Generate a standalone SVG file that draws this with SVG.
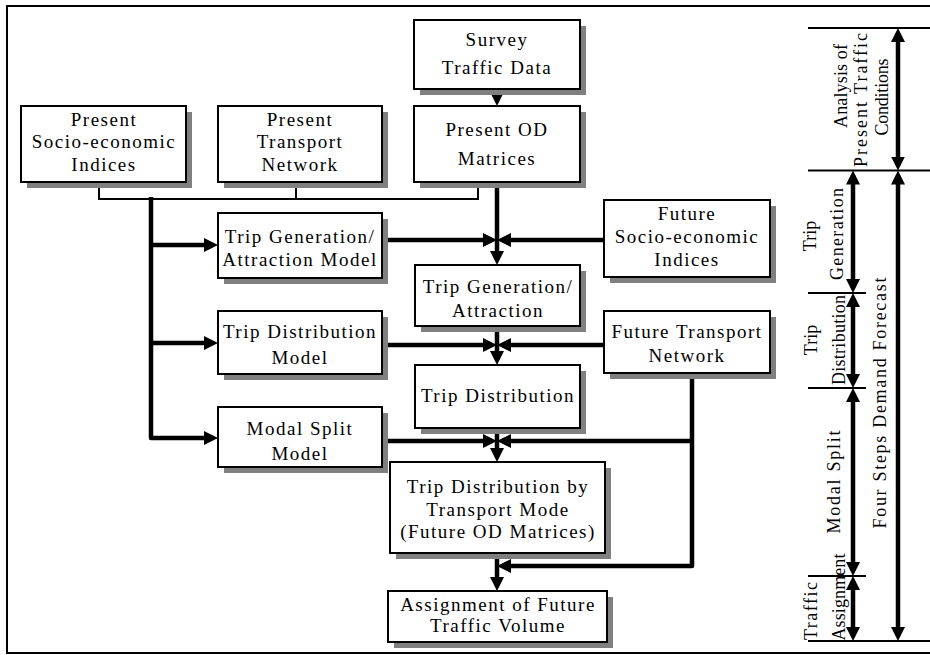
<svg xmlns="http://www.w3.org/2000/svg" width="930" height="655" viewBox="0 0 930 655">
  <defs>
    <!-- filled arrowhead; tip sits 5px beyond the path end so thick strokes stay hidden -->
    <marker id="ah" viewBox="0 0 14 14" refX="9" refY="7" markerWidth="14" markerHeight="14" markerUnits="userSpaceOnUse" orient="auto-start-reverse">
      <path d="M0,0 L14,7 L0,14 z" fill="#000"/>
    </marker>
  </defs>
  <style>
    .frame{fill:none;stroke:#000;stroke-width:2}
    .shadow{fill:#808080}
    .box{fill:#fff;stroke:#000;stroke-width:2}
    .lbl{font-family:"Liberation Serif","Times New Roman",serif;font-size:19px;letter-spacing:1.5px;text-anchor:middle;fill:#000}
    .side{font-family:"Liberation Serif","Times New Roman",serif;font-size:18px;text-anchor:middle;fill:#000}
    .thin{fill:none;stroke:#000;stroke-width:2}
    .thick{fill:none;stroke:#000;stroke-width:4.5;stroke-linejoin:round}
    .arr{marker-end:url(#ah)}
    .dbl{marker-start:url(#ah);marker-end:url(#ah)}
  </style>

  <rect class="frame" x="7" y="6" width="960" height="647"/>

  <!-- connectors -->
  <g id="connectors">
    <path class="thin" d="M99,182 V199 H478 V182"/>
    <path class="thin" d="M296,182 V199"/>
    <path class="thick" d="M151,197 V438 H213" style="marker-end:url(#ah)"/>
    <path class="thick arr" d="M151,245 H213"/>
    <path class="thick arr" d="M151,343 H213"/>
    <path class="thick arr" d="M497,89 V101"/>
    <path class="thick arr" d="M497,182 V260"/>
    <path class="thick arr" d="M382,240 H492"/>
    <path class="thick arr" d="M604,240 H502"/>
    <path class="thick arr" d="M497,326 V360"/>
    <path class="thick arr" d="M382,345 H492"/>
    <path class="thick arr" d="M604,345 H502"/>
    <path class="thick arr" d="M497,428 V457"/>
    <path class="thick arr" d="M382,441 H492"/>
    <path class="thick arr" d="M692,441 H502"/>
    <path class="thick arr" d="M692,373 V566 H502"/>
    <path class="thick arr" d="M497,553 V586"/>
  </g>

  <!-- flow nodes -->
  <g id="survey-traffic-data">
    <rect class="shadow" x="420" y="26" width="166" height="69"/>
    <rect class="box" x="414" y="20" width="166" height="69"/>
    <text class="lbl" x="497" y="46">Survey</text>
    <text class="lbl" x="497" y="74">Traffic Data</text>
  </g>
  <g id="present-socio-economic-indices">
    <rect class="shadow" x="27" y="112" width="165" height="76"/>
    <rect class="box" x="21" y="106" width="165" height="76"/>
    <text class="lbl" x="104" y="126">Present</text>
    <text class="lbl" x="104" y="148">Socio-economic</text>
    <text class="lbl" x="104" y="171">Indices</text>
  </g>
  <g id="present-transport-network">
    <rect class="shadow" x="224" y="112" width="164" height="76"/>
    <rect class="box" x="218" y="106" width="164" height="76"/>
    <text class="lbl" x="300" y="126">Present</text>
    <text class="lbl" x="300" y="148">Transport</text>
    <text class="lbl" x="300" y="171">Network</text>
  </g>
  <g id="present-od-matrices">
    <rect class="shadow" x="420" y="112" width="166" height="76"/>
    <rect class="box" x="414" y="106" width="166" height="76"/>
    <text class="lbl" x="497" y="136">Present OD</text>
    <text class="lbl" x="497" y="165">Matrices</text>
  </g>
  <g id="trip-generation-attraction-model">
    <rect class="shadow" x="224" y="219" width="164" height="65"/>
    <rect class="box" x="218" y="213" width="164" height="65"/>
    <text class="lbl" x="300" y="243">Trip Generation/</text>
    <text class="lbl" x="300" y="266">Attraction Model</text>
  </g>
  <g id="future-socio-economic-indices">
    <rect class="shadow" x="610" y="206" width="166" height="77"/>
    <rect class="box" x="604" y="200" width="166" height="77"/>
    <text class="lbl" x="687" y="220">Future</text>
    <text class="lbl" x="687" y="243">Socio-economic</text>
    <text class="lbl" x="687" y="266">Indices</text>
  </g>
  <g id="trip-generation-attraction">
    <rect class="shadow" x="421" y="271" width="165" height="61"/>
    <rect class="box" x="415" y="265" width="165" height="61"/>
    <text class="lbl" x="498" y="293">Trip Generation/</text>
    <text class="lbl" x="498" y="317">Attraction</text>
  </g>
  <g id="trip-distribution-model">
    <rect class="shadow" x="224" y="317" width="164" height="63"/>
    <rect class="box" x="218" y="311" width="164" height="63"/>
    <text class="lbl" x="300" y="338">Trip Distribution</text>
    <text class="lbl" x="300" y="364">Model</text>
  </g>
  <g id="future-transport-network">
    <rect class="shadow" x="610" y="317" width="166" height="62"/>
    <rect class="box" x="604" y="311" width="166" height="62"/>
    <text class="lbl" x="687" y="338">Future Transport</text>
    <text class="lbl" x="687" y="362">Network</text>
  </g>
  <g id="trip-distribution">
    <rect class="shadow" x="421" y="371" width="165" height="63"/>
    <rect class="box" x="415" y="365" width="165" height="63"/>
    <text class="lbl" x="498" y="402">Trip Distribution</text>
  </g>
  <g id="modal-split-model">
    <rect class="shadow" x="224" y="413" width="164" height="60"/>
    <rect class="box" x="218" y="407" width="164" height="60"/>
    <text class="lbl" x="300" y="435">Modal Split</text>
    <text class="lbl" x="300" y="460">Model</text>
  </g>
  <g id="trip-distribution-by-mode">
    <rect class="shadow" x="396" y="468" width="215" height="91"/>
    <rect class="box" x="390" y="462" width="215" height="91"/>
    <text class="lbl" x="498" y="493">Trip Distribution by</text>
    <text class="lbl" x="498" y="516">Transport Mode</text>
    <text class="lbl" x="498" y="538">(Future OD Matrices)</text>
  </g>
  <g id="assignment-of-future-traffic">
    <rect class="shadow" x="394" y="597" width="219" height="51"/>
    <rect class="box" x="388" y="591" width="219" height="51"/>
    <text class="lbl" x="498" y="611">Assignment of Future</text>
    <text class="lbl" x="498" y="632">Traffic Volume</text>
  </g>

  <!-- stage scale on the right -->
  <g id="stage-scale">
    <path class="thin" d="M808,28 H930 M808,170.5 H930 M808,641 H930 M808,293 H866 M808,388 H866 M808,576 H866"/>
    <path class="thick dbl" d="M898,33 V165.5"/>
    <path class="thick dbl" d="M898,175.5 V636"/>
    <path class="thick dbl" d="M853,175.5 V288"/>
    <path class="thick dbl" d="M853,298 V383"/>
    <path class="thick dbl" d="M853,393 V571"/>
    <path class="thick dbl" d="M853,581 V636"/>
    <text class="side" transform="rotate(-90 847 86)" x="847" y="86" textLength="84">Analysis of</text>
    <text class="side" transform="rotate(-90 867 100)" x="867" y="100" textLength="134">Present Traffic</text>
    <text class="side" transform="rotate(-90 888 97)" x="888" y="97" textLength="77">Conditions</text>
    <text class="side" transform="rotate(-90 816 236)" x="816" y="236">Trip</text>
    <text class="side" transform="rotate(-90 843 234)" x="843" y="234" textLength="92">Generation</text>
    <text class="side" transform="rotate(-90 817 340)" x="817" y="340">Trip</text>
    <text class="side" transform="rotate(-90 845 340)" x="845" y="340" textLength="90">Distribution</text>
    <text class="side" transform="rotate(-90 840 482)" x="840" y="482" textLength="103">Modal Split</text>
    <text class="side" transform="rotate(-90 886 403)" x="886" y="403" textLength="251">Four Steps Demand Forecast</text>
    <text class="side" transform="rotate(-90 817 611)" x="817" y="611" textLength="58">Traffic</text>
    <text class="side" transform="rotate(-90 845 597)" x="845" y="597" textLength="87">Assignment</text>
  </g>
</svg>
